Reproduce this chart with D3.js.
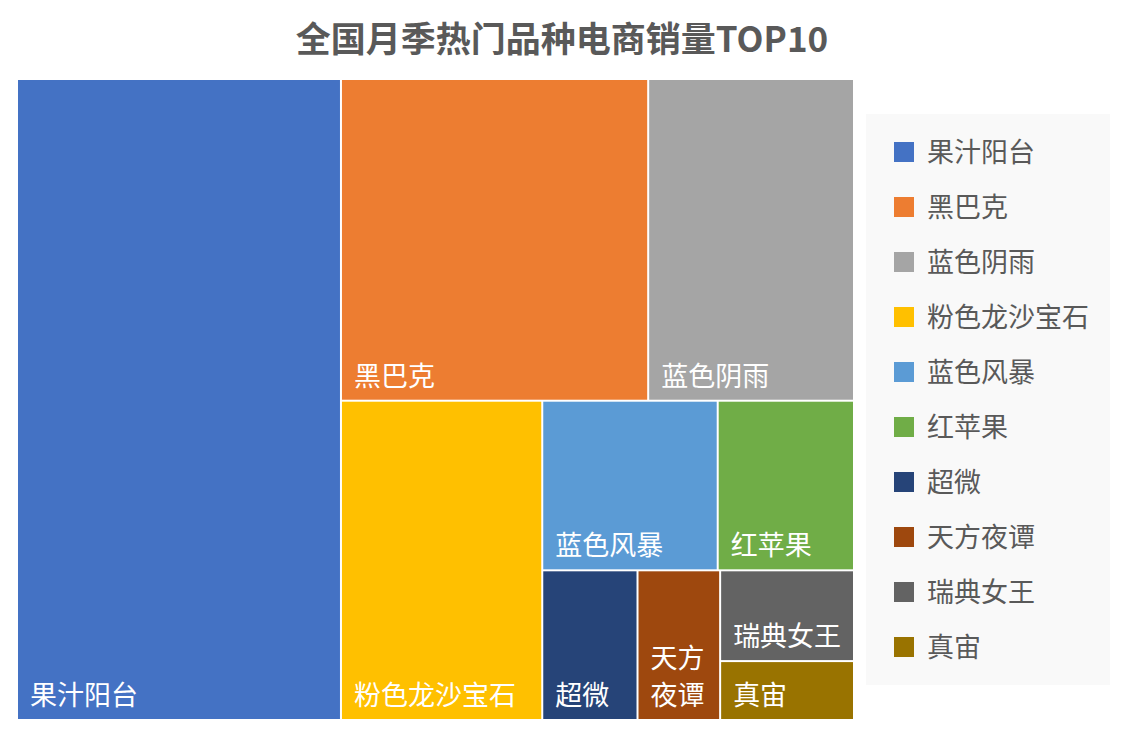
<!DOCTYPE html>
<html>
<head>
<meta charset="utf-8">
<script src="https://cdn.jsdelivr.net/npm/d3@7"></script>
<style>
  body { margin: 0; background: #fff; }
  svg { display: block; font-family: "Noto Sans CJK SC", "Noto Sans", sans-serif; }
</style>
</head>
<body>
<svg id="chart" width="1128" height="740"></svg>
<script>
// treemap of e-commerce sales, top 10 rose varieties
var varieties = ['果汁阳台', '黑巴克', '蓝色阴雨', '粉色龙沙宝石', '蓝色风暴', '红苹果', '超微', '天方夜谭', '瑞典女王', '真宙']
var sales = [3845, 1830, 1226, 1190, 551, 428, 264, 229, 225, 146]
var colors = ['#4472C4', '#ED7D31', '#A5A5A5', '#FFC000', '#5B9BD5', '#70AD47', '#264478', '#9E480E', '#636363', '#997300']
var title = '全国月季热门品种电商销量TOP10'

var svg = d3.select('#chart')
var plot = { x: 18, y: 80, w: 835, h: 639 }
var fontSize = 27

var color = d3.scaleOrdinal().domain(varieties).range(colors)

svg.append('text')
  .attr('x', 562)
  .attr('y', 52)
  .attr('text-anchor', 'middle')
  .attr('style', 'font-size: 35px; font-weight: 700; fill: #595959;')
  .text(title)

var root = d3.hierarchy({ children: varieties.map(function (n, i) { return { name: n, value: sales[i] } }) })
  .sum(function (d) { return d.value || 0 })
  .sort(function (a, b) { return b.value - a.value })

d3.treemap()
  .tile(d3.treemapSquarify.ratio(1))
  .size([plot.w, plot.h])
  .paddingInner(2)(root)

var g = svg.append('g').attr('transform', 'translate(' + plot.x + ',' + plot.y + ')')

var cell = g.selectAll('g.cell')
  .data(root.leaves())
  .join('g')
  .attr('class', 'cell')

cell.append('rect')
  .attr('x', function (d) { return d.x0 })
  .attr('y', function (d) { return d.y0 })
  .attr('width', function (d) { return d.x1 - d.x0 })
  .attr('height', function (d) { return d.y1 - d.y0 })
  .attr('fill', function (d) { return color(d.data.name) })

// label at bottom left, wrap when the cell is too narrow
cell.each(function (d) {
  var pad = 12
  var perLine = Math.max(1, Math.floor((d.x1 - d.x0 - 2 * pad + 4) / fontSize))
  var chars = Array.from(d.data.name)
  var lines = []
  for (var i = 0; i < chars.length; i += perLine) lines.push(chars.slice(i, i + perLine).join(''))
  var lh = 37
  var t = d3.select(this).append('text')
    .attr('style', 'font-size: ' + fontSize + 'px; fill: #fff;')
  lines.forEach(function (line, k) {
    t.append('tspan')
      .attr('x', d.x0 + pad)
      .attr('y', d.y1 - 14 - (lines.length - 1 - k) * lh)
      .text(line)
  })
})

// legend
var legend = svg.append('g')
legend.append('rect')
  .attr('x', 866)
  .attr('y', 114)
  .attr('width', 244)
  .attr('height', 571)
  .attr('fill', '#f9f9f9')

var ly = d3.scalePoint().domain(varieties).range([152, 647])

var item = legend.selectAll('g.item')
  .data(varieties)
  .join('g')
  .attr('class', 'item')
  .attr('transform', function (d) { return 'translate(0,' + ly(d) + ')' })

item.append('rect')
  .attr('x', 894)
  .attr('y', -10)
  .attr('width', 20)
  .attr('height', 20)
  .attr('fill', function (d) { return color(d) })

item.append('text')
  .attr('x', 927)
  .attr('y', 10)
  .attr('style', 'font-size: ' + fontSize + 'px; fill: #595959;')
  .text(function (d) { return d })
</script>
</body>
</html>
